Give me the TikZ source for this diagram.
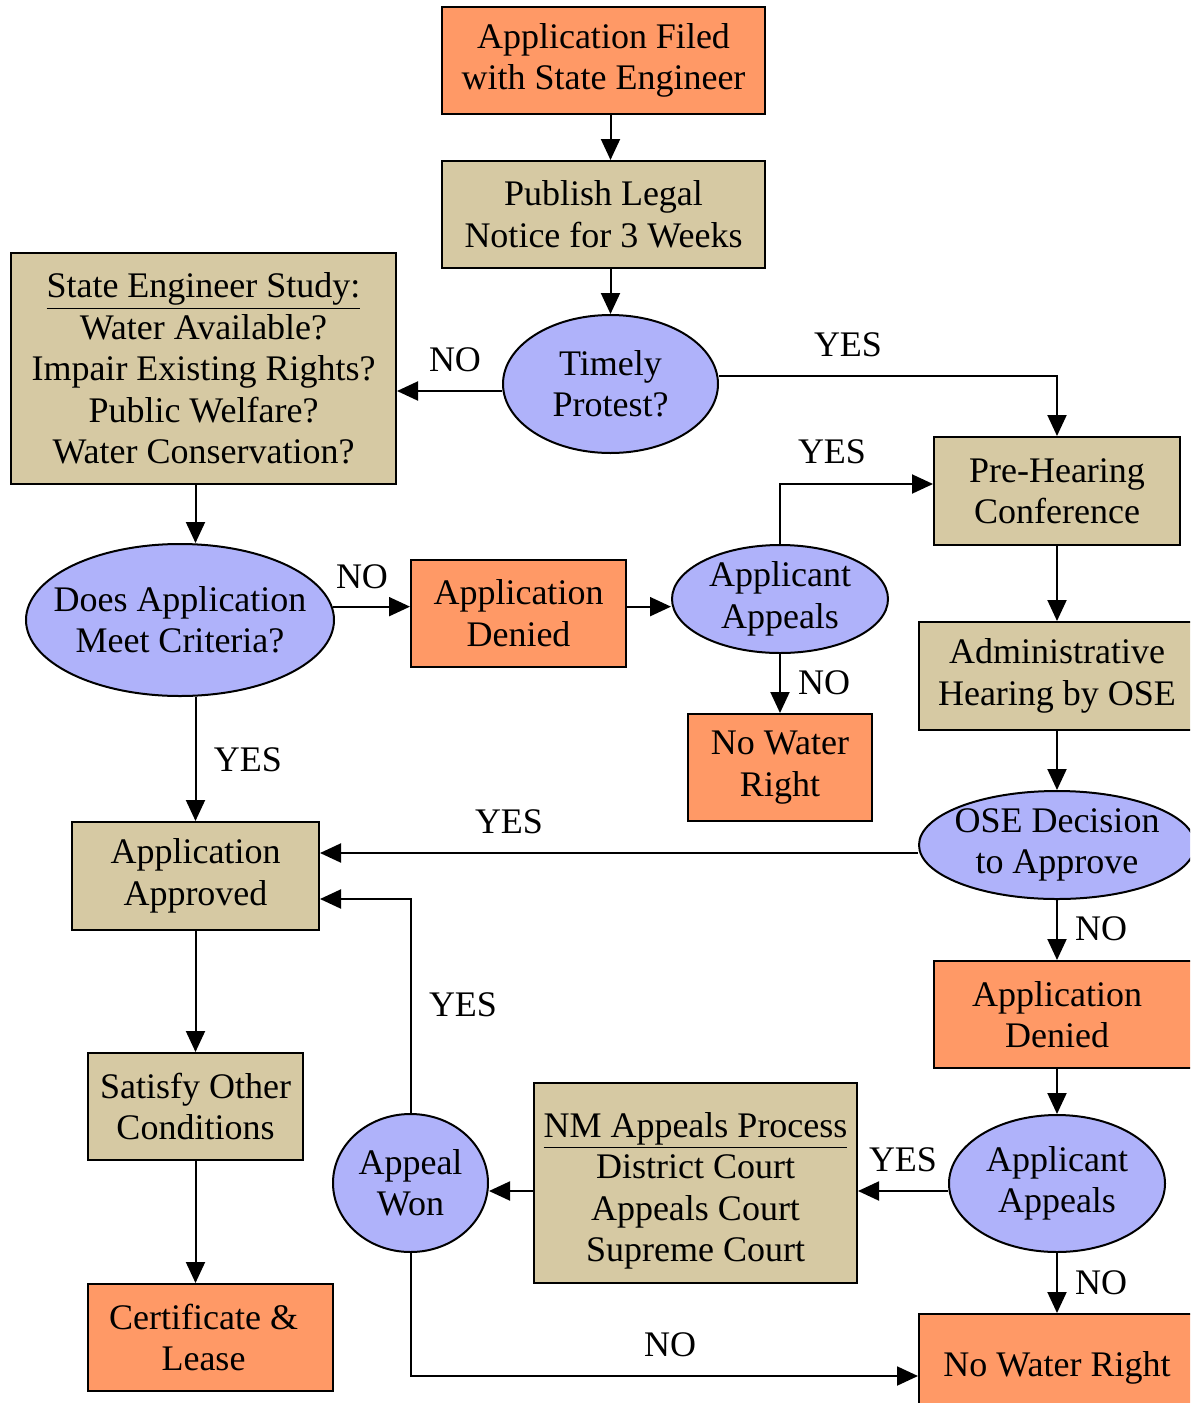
\documentclass[tikz,border=0pt]{standalone}
\usepackage{fontspec}
\setmainfont{Liberation Serif}
\usetikzlibrary{arrows.meta,shapes.geometric}
\definecolor{stepOrange}{RGB}{255,153,102}
\definecolor{stepTan}{RGB}{214,201,163}
\definecolor{askBlue}{RGB}{175,178,250}

\begin{document}
\begin{tikzpicture}[
    x=0.5pt, y=-0.5pt,
    every node/.style={font=\fontsize{18}{20.75}\selectfont, align=center},
    orangebox/.style={rectangle, draw=black, line width=1pt, fill=stepOrange,
        inner sep=0pt},
    tanbox/.style={rectangle, draw=black, line width=1pt, fill=stepTan,
        inner sep=0pt},
    question/.style={ellipse, draw=black, line width=1pt, fill=askBlue,
        inner xsep=-30pt, inner ysep=-12pt},
    lbl/.style={inner sep=0pt},
    flow/.style={line width=1pt, -{Triangle[length=10.5pt,width=9.5pt]}}
]
    \useasboundingbox (0,0) rectangle (1190,1403);
    \clip (0,0) rectangle (1190,1403);

    \node[orangebox, minimum width=161.5pt, minimum height=53.5pt] (filed) at (603.5,60.5) {Application Filed\\with State Engineer};
    \node[tanbox, minimum width=161.5pt, minimum height=53.5pt] (notice) at (603.5,214.5) {Publish Legal\\Notice for 3 Weeks};
    \node[question, minimum width=107.5pt, minimum height=69pt] (protest) at (610.5,384) {Timely\\Protest?};
    \node[tanbox, minimum width=192.5pt, minimum height=115.5pt] (study) at (203.5,368.5) {\underline{State Engineer Study:}\\Water Available?\\Impair Existing Rights?\\Public Welfare?\\Water Conservation?};
    \node[question, minimum width=154pt, minimum height=76pt] (criteria) at (180,620) {Does Application\\Meet Criteria?};
    \node[orangebox, minimum width=107.5pt, minimum height=53.5pt] (denied) at (518.5,613) {Application\\Denied};
    \node[question, minimum width=108pt, minimum height=54pt] (appeals) at (780,599) {Applicant\\Appeals};
    \node[orangebox, minimum width=92pt, minimum height=53.5pt] (nowater) at (780,767.5) {No Water\\Right};
    \node[tanbox, minimum width=123pt, minimum height=54pt] (prehear) at (1057,491) {Pre-Hearing\\Conference};
    \node[tanbox, minimum width=138pt, minimum height=54pt] (hearing) at (1057,676) {Administrative\\Hearing by OSE};
    \node[question, minimum width=138pt, minimum height=54pt] (decision) at (1057,845) {OSE Decision\\to Approve};
    \node[tanbox, minimum width=123.5pt, minimum height=54pt] (approved) at (195.5,876) {Application\\Approved};
    \node[orangebox, minimum width=131pt, minimum height=53.5pt] (deniedb) at (1065,1014.5) {Application\hspace*{8pt}\\Denied\hspace*{8pt}};
    \node[question, minimum width=108pt, minimum height=68.5pt] (appealsb) at (1057,1183.5) {Applicant\\Appeals};
    \node[tanbox, minimum width=161.5pt, minimum height=100pt] (courts) at (695.5,1183) {\rule{0pt}{20.5pt}\underline{NM Appeals Process}\\District Court\\Appeals Court\\Supreme Court};
    \node[question, minimum width=77.5pt, minimum height=69pt] (won) at (410.5,1183) {Appeal\\Won};
    \node[orangebox, minimum width=138pt, minimum height=53.5pt] (nowaterb) at (1057,1367.5) {No Water Right};
    \node[tanbox, minimum width=107.5pt, minimum height=53.5pt] (satisfy) at (195.5,1106.5) {Satisfy Other\\Conditions};
    \node[orangebox, minimum width=122.5pt, minimum height=53.5pt] (cert) at (210.5,1337.5) {Certificate \&\hspace*{7pt}\\Lease\hspace*{7pt}};

    \node[lbl] (noprotest) at (455,360) {NO};
    \node[lbl] (yesprotest) at (848,345) {YES};
    \node[lbl] (nocriteria) at (362,577) {NO};
    \node[lbl] (yesappeals) at (832,452) {YES};
    \node[lbl] (noappeals) at (824,683) {NO};
    \node[lbl] (yescriteria) at (248,760) {YES};
    \node[lbl] (yesdecision) at (509,822) {YES};
    \node[lbl] (nodecision) at (1101,929) {NO};
    \node[lbl] (yeswon) at (463,1005) {YES};
    \node[lbl] (yesappealsb) at (903,1160) {YES};
    \node[lbl] (noappealsb) at (1101,1283) {NO};
    \node[lbl] (nowon) at (670,1345) {NO};

    \draw[flow] (filed.south -| protest.north) -- (notice.north -| protest.north);
    \draw[flow] (notice.south -| protest.north) -- (protest.north);
    \draw[flow] ([yshift=-3.5pt]protest.west) -- ([yshift=-3.5pt]study.east |- protest.west);
    \draw[flow] ([yshift=4pt]protest.east) -| (prehear.north);
    \draw[flow] (study.south -| approved.north) -- (criteria.north -| approved.north);
    \draw[flow] (criteria.5) -- (criteria.5 -| denied.west);
    \draw[flow] (denied.east |- criteria.5) -- (criteria.5 -| appeals.west);
    \draw[flow] (appeals.north) |- ([yshift=3.5pt]prehear.west);
    \draw[flow] (appeals.south) -- (nowater.north);
    \draw[flow] (prehear.south) -- (hearing.north);
    \draw[flow] (hearing.south) -- (decision.north);
    \draw[flow] ([yshift=-4pt]decision.west) -- ([yshift=-4pt]approved.east |- decision.west);
    \draw[flow] (decision.south) -- (deniedb.north -| decision.south);
    \draw[flow] (criteria.south -| approved.north) -- (approved.north);
    \draw[flow] (approved.south) -- (satisfy.north);
    \draw[flow] (satisfy.south) -- (satisfy.south |- cert.north);
    \draw[flow] (deniedb.south -| appealsb.north) -- (appealsb.north);
    \draw[flow] ([yshift=-3.75pt]appealsb.west) -- ([yshift=-3.75pt]courts.east |- appealsb.west);
    \draw[flow] ([yshift=-4pt]courts.west) -- ([yshift=-4pt]won.east |- courts.west);
    \draw[flow] (appealsb.south) -- (nowaterb.north);
    \draw[flow] (won.north) |- ([yshift=-11.5pt]approved.east);
    \draw[flow] (won.south) |- ([yshift=-4.25pt]nowaterb.west);
\end{tikzpicture}
\end{document}
